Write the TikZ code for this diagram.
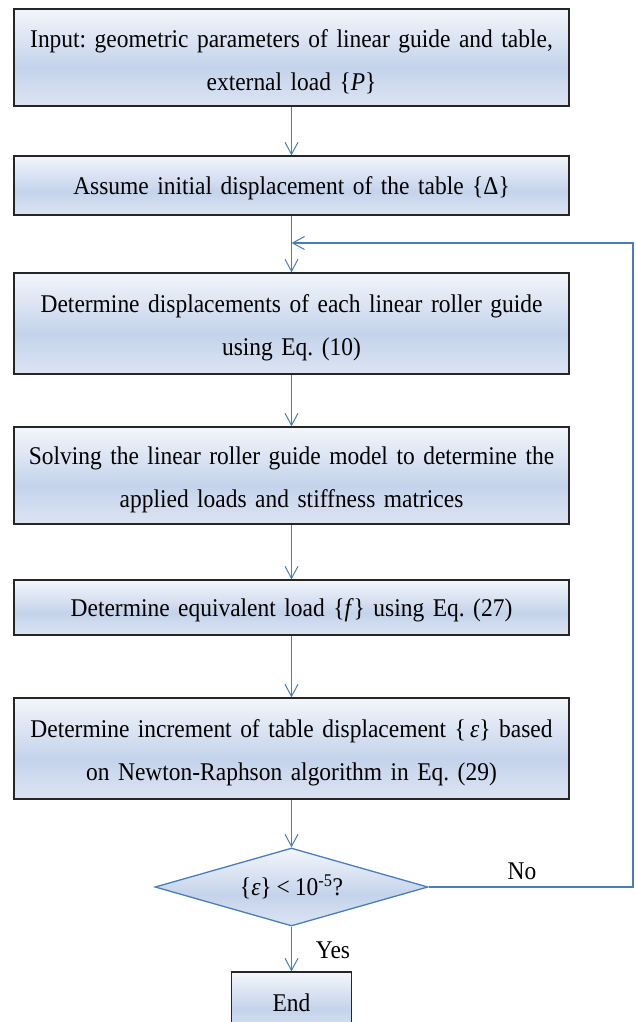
\documentclass[tikz,border=0pt]{standalone}
\usepackage{fontspec}
\setmainfont[FakeStretch=0.92, WordSpace=0.85]{Liberation Serif}
\usepackage{xcolor}
\usepackage{tikz}
\usetikzlibrary{
    positioning,
    arrows.meta,
    shapes.geometric
}
\frenchspacing
\definecolor{flowblue}{HTML}{4A7EBB}
\definecolor{boxtop}{HTML}{F3F6FB}
\definecolor{boxmid}{HTML}{C4D3EB}
\definecolor{boxbot}{HTML}{DCE4F3}
\pgfdeclareverticalshading{boxfill}{100bp}{
    color(0bp)=(boxbot); color(25bp)=(boxbot); color(45bp)=(boxmid);
    color(75bp)=(boxtop); color(100bp)=(boxtop)}
\newcommand{\flowfont}{\fontsize{25.5pt}{43pt}\selectfont}
\tikzset{
    % 処理ブロック
    block/.style={
        rectangle,
        draw=black!85,
        line width=1.3pt,
        shading=boxfill,
        minimum width=555pt,
        text width=545pt,
        align=center,
        inner sep=0pt,
        font=\flowfont,
        execute at end node={\par\vspace*{-9pt}}
    },
    % 判定
    decision/.style={
        diamond,
        aspect=3.5,
        draw=flowblue,
        line width=1.3pt,
        shading=boxfill,
        minimum width=273pt,
        minimum height=78pt,
        inner sep=0pt,
        font=\flowfont
    },
    % 矢印
    arrow/.style={
        -{Straight Barb[length=12pt, width=13pt, line width=1pt]},
        draw=flowblue,
        line width=1.1pt
    },
    label/.style={font=\flowfont}
}
\begin{document}
\begin{tikzpicture}[x=1pt, y=-1pt]
    \useasboundingbox (0,0) rectangle (635,1022);

    % Blocks
    \node[block, minimum height=97pt] (input) at (291.5,57.5)
        {Input: geometric parameters of linear guide and table,\\ external load \{\textit{P}\}};
    \node[block, minimum height=59pt] (assume) at (291.5,185.5)
        {Assume initial displacement of the table \{Δ\}};
    \node[block, minimum height=101pt] (disp) at (291.5,323.5)
        {Determine displacements of each linear roller guide\\ using Eq. (10)};
    \node[block, minimum height=97pt] (solve) at (291.5,475.5)
        {Solving the linear roller guide model to determine the\\ applied loads and stiffness matrices};
    \node[block, minimum height=55pt] (equiv) at (291.5,607.5)
        {Determine equivalent load \{\textit{f}\} using Eq. (27)};
    \node[block, minimum height=101pt] (incr) at (291.5,748.5)
        {Determine increment of table displacement \{\,\textit{ε}\} based\\ on Newton-Raphson algorithm in Eq. (29)};
    \node[decision] (check) at (291.5,887) {\{\textit{ε}\} < 10\textsuperscript{-5}?};
    \node[block, minimum width=120pt, text width=110pt, minimum height=62pt] (finish) at (291.5,1003) {End};

    % Labels
    \node[label] (nolabel) at (522,871) {No};
    \node[label] (yeslabel) at (333,950) {Yes};

    % Loop
    \coordinate (loopin) at (291.5,243);
    \coordinate (loopcorner) at (633,243);

    % Arrows
    \draw[arrow] (input) -- (assume);
    \draw[arrow] (assume) -- (disp);
    \draw[arrow] (disp) -- (solve);
    \draw[arrow] (solve) -- (equiv);
    \draw[arrow] (equiv) -- (incr);
    \draw[arrow] (incr) -- (check);
    \draw[arrow] (check) -- (finish);
    \draw[arrow] (check.east) -| (loopcorner) -- (loopin);
\end{tikzpicture}
\end{document}
